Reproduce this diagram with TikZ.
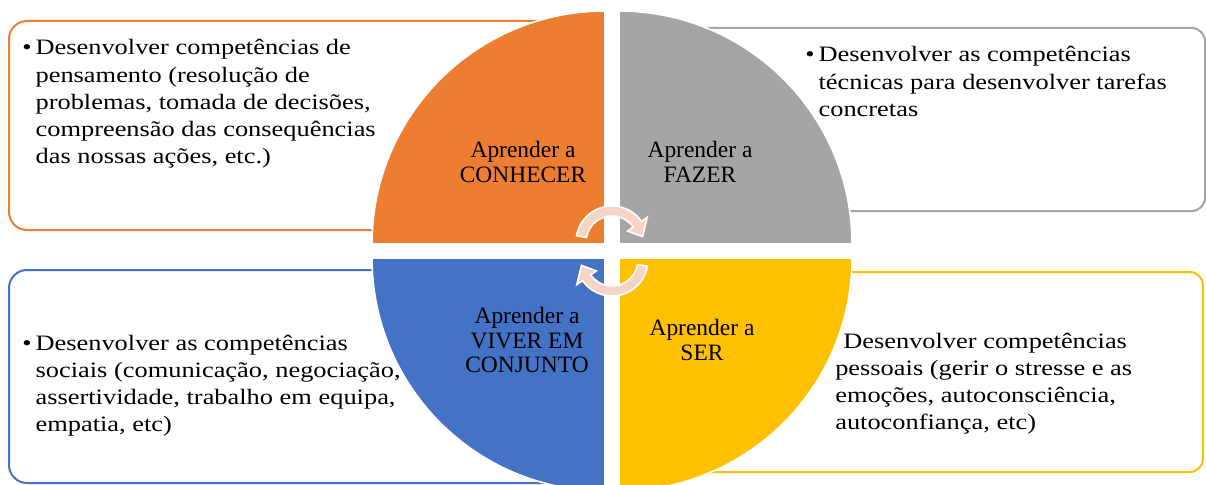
\documentclass[tikz,border=0pt]{standalone}
\usepackage{fontspec}
\setmainfont{Liberation Serif}
\newfontfamily\sidefont[FakeStretch=1.2]{Liberation Serif}
\definecolor{qorange}{HTML}{ED7D31}
\definecolor{qgray}{HTML}{A5A5A5}
\definecolor{qblue}{HTML}{4472C4}
\definecolor{qyellow}{HTML}{FFC000}
\definecolor{qpink}{HTML}{F8D4C6}
\newcommand{\sidefmt}{\sidefont\fontsize{16.5pt}{20.3pt}\selectfont\raggedright}
\newcommand{\blist}[1]{\parbox[t]{420pt}{\sidefmt\hangindent=10pt\hangafter=1\noindent\makebox[10pt][l]{•}#1}}
\newcommand{\plist}[1]{\parbox[t]{420pt}{\sidefmt\noindent#1}}
\tikzset{
  box/.style={line width=1.5pt, rounded corners=#1},
  quad/.style={draw=white, line width=1.2pt},
  cyc/.style={fill=qpink, draw=white, line width=1.2pt},
  lbl/.style={font=\fontsize{17.6pt}{18.6pt}\selectfont, align=center, inner sep=0pt, text=black},
  side/.style={anchor=base west, inner sep=0pt, text=black}
}
\begin{document}
\begin{tikzpicture}[x=0.75pt, y=-0.75pt]
\useasboundingbox (0,0) rectangle (1206,485);
% outer text boxes
\draw[box=13.5pt, draw=qorange] (9,21) rectangle (598,230);
\draw[box=10pt, draw=qgray] (626,28) rectangle (1205,211);
\draw[box=13.5pt, draw=qblue] (9,270) rectangle (598,483);
\draw[box=10pt, draw=qyellow] (626,272) rectangle (1203,472);
% quadrants
\draw[quad, fill=qorange] (605,244) -- ++(180:233) arc (180:270:233) -- cycle;
\draw[quad, fill=qgray] (619,244) -- ++(270:233) arc (270:360:233) -- cycle;
\draw[quad, fill=qyellow] (619,258) -- ++(0:233) arc (0:90:233) -- cycle;
\draw[quad, fill=qblue] (605,258) -- ++(90:233) arc (90:180:233) -- cycle;
% cycle arrows
\draw[cyc, shift={(612,242)}] (190:36) arc (190:325:36) -- (325:43) -- (350:31) -- (325:19) -- (325:26) arc (325:190:26) -- cycle;
\draw[cyc, shift={(612,260)}] (10:36) arc (10:145:36) -- (145:43) -- (170:31) -- (145:19) -- (145:26) arc (145:10:26) -- cycle;
% center labels
\node[lbl] (know) at (523,162) {Aprender a\\CONHECER};
\node[lbl] (do) at (700,162) {Aprender a\\FAZER};
\node[lbl] (live) at (527,340) {Aprender a\\VIVER EM\\CONJUNTO};
\node[lbl] (be) at (702,340) {Aprender a\\SER};
% side texts
\node[side] (tknow) at (22,55) {\blist{Desenvolver competências de\newline pensamento (resolução de\newline problemas, tomada de decisões,\newline compreensão das consequências\newline das nossas ações, etc.)}};
\node[side] (tdo) at (805,62) {\blist{Desenvolver as competências\newline técnicas para desenvolver tarefas\newline concretas}};
\node[side] (tlive) at (22,350) {\blist{Desenvolver as competências\newline sociais (comunicação, negociação,\newline assertividade, trabalho em equipa,\newline empatia, etc)}};
\node[side] (tbe) at (835,348) {\plist{\hspace*{6pt}Desenvolver competências\newline pessoais (gerir o stresse e as\newline emoções, autoconsciência,\newline autoconfiança, etc)}};
\end{tikzpicture}
\end{document}
